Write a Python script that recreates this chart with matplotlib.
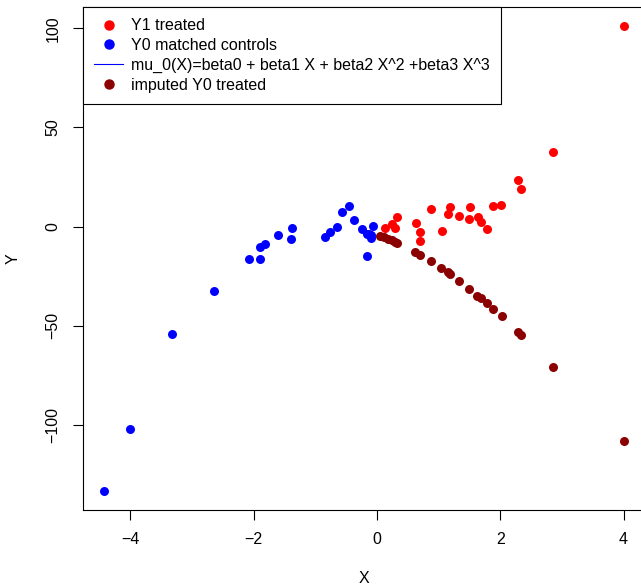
import numpy as np
import matplotlib.pyplot as plt
from matplotlib.lines import Line2D

plt.rcParams['font.family'] = ['Liberation Sans', 'DejaVu Sans']

# Y1 treated
x_treated = [0.13, 0.25, 0.29, 0.32, 0.63, 0.70, 0.70, 0.88, 1.05, 1.16, 1.19, 1.33,
             1.49, 1.51, 1.64, 1.69, 1.79, 1.89, 2.02, 2.29, 2.34, 2.86, 4.01]
y1_treated = [-0.5, 1.5, -0.7, 4.9, 1.8, -2.5, -7.2, 8.9, -2.2, 6.2, 10.1, 5.5,
              3.7, 9.9, 4.9, 2.2, -1.4, 10.6, 11.1, 23.5, 19.0, 37.8, 101.3]

# Y0 matched controls
x_controls = [-4.43, -4.01, -3.33, -2.65, -2.08, -1.90, -1.90, -1.82, -1.61, -1.40,
              -1.38, -0.84, -0.76, -0.64, -0.56, -0.46, -0.37, -0.24, -0.16, -0.16,
              -0.13, -0.09, -0.07, -0.10]
y0_controls = [-133.5, -102.0, -54.4, -32.7, -16.3, -16.4, -10.3, -8.8, -4.1, -6.1,
               -0.9, -5.3, -2.5, -0.3, 7.2, 10.2, 3.4, -1.2, -4.0, -14.8,
               -3.5, -5.7, 0.2, -4.5]

# imputed Y0 treated
x_imputed = [0.05, 0.12, 0.18, 0.25, 0.29, 0.33, 0.62, 0.70, 0.88, 1.04, 1.16, 1.19,
             1.33, 1.50, 1.63, 1.68, 1.78, 1.89, 2.03, 2.29, 2.34, 2.86, 4.01]
y0_imputed = [-5.0, -5.5, -6.2, -7.0, -7.6, -8.3, -12.8, -14.1, -17.5, -20.8, -23.1, -24.1,
              -27.4, -31.4, -34.8, -36.1, -38.6, -41.5, -45.3, -53.2, -54.8, -70.9, -108.0]

legend_labels = ['Y1 treated', 'Y0 matched controls',
                 'mu_0(X)=beta0 + beta1 X + beta2 X^2 +beta3 X^3', 'imputed Y0 treated']

fig = plt.figure(figsize=(6.41, 5.86), dpi=100)
ax = fig.add_axes([83 / 641, 76 / 586, 562 / 641, 503 / 586])

ms = 42
ax.scatter(x_treated, y1_treated, s=ms, c='#FF0000', linewidths=0, zorder=3)
ax.scatter(x_controls, y0_controls, s=ms, c='#0000FF', linewidths=0, zorder=3)
ax.scatter(x_imputed, y0_imputed, s=ms, c='#8B0000', linewidths=0, zorder=4)

# R-style 4% axis extension
all_x = np.concatenate([x_treated, x_controls, x_imputed])
all_y = np.concatenate([y1_treated, y0_controls, y0_imputed])
dx = (all_x.max() - all_x.min()) * 0.04
dy = (all_y.max() - all_y.min()) * 0.04
ax.set_xlim(all_x.min() - dx, all_x.max() + dx)
ax.set_ylim(all_y.min() - dy, all_y.max() + dy)

ax.set_xticks([-4, -2, 0, 2, 4])
ax.set_yticks([-100, -50, 0, 50, 100])
ax.tick_params(direction='out', length=7.2, width=0.8, labelsize=11.5, pad=9)
for lab in ax.get_yticklabels():
    lab.set_rotation(90)
    lab.set_va('center')
ax.set_xlabel('X', fontsize=11.5, labelpad=17)
ax.set_ylabel('Y', fontsize=11.5, labelpad=18)
for sp in ax.spines.values():
    sp.set_linewidth(0.8)

handles = [
    Line2D([], [], marker='o', color='#FF0000', linestyle='none', markersize=6.5),
    Line2D([], [], marker='o', color='#0000FF', linestyle='none', markersize=6.5),
    Line2D([], [], color='#0000FF', linewidth=0.8),
    Line2D([], [], marker='o', color='#8B0000', linestyle='none', markersize=6.5),
]
leg = ax.legend(handles, legend_labels, loc='upper left', fontsize=11.5,
                borderaxespad=0, fancybox=False, edgecolor='black', framealpha=1,
                handlelength=1.8, handletextpad=0.5, labelspacing=0.3,
                borderpad=0.7)
leg.get_frame().set_linewidth(0.8)

fig.savefig('out.png', dpi=100)
